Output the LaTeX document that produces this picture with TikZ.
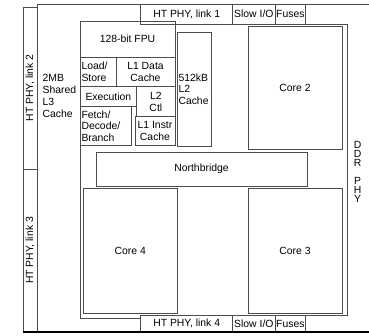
\documentclass[tikz,border=0pt]{standalone}
\usepackage{fontspec}
\setmainfont{Liberation Sans}
\begin{document}
\begin{tikzpicture}[x=1pt,y=-1pt,
  ln/.style={draw=black!70, line width=0.75pt},
  blk/.style={ln, inner sep=0pt, outer sep=0pt, align=center, font=\fontsize{10.4}{11.5}\selectfont},
  lblk/.style={blk, inner xsep=1.5pt, align=left},
  txt/.style={inner sep=0pt, font=\fontsize{10.4}{11.8}\selectfont}]
\useasboundingbox (0,0) rectangle (369,335);
% outer frame
\draw[ln] (37,4.5) -- (369,4.5);
\draw[ln] (37,4.5) -- (37,332);
% left strips
\node[blk, rotate=90, minimum width=162pt, minimum height=14pt] (link2) at (30,88) {HT PHY, link 2};
\node[blk, rotate=90, minimum width=163pt, minimum height=14pt] (link3) at (30,250.5) {HT PHY, link 3};
% top strip
\node[blk, minimum width=92pt, minimum height=19.5pt] (link1) at (186.7,14.25) {HT PHY, link 1};
\node[blk, minimum width=42.3pt, minimum height=19.5pt] (sio1) at (253.85,14.25) {Slow I/O};
\node[blk, minimum width=30.7pt, minimum height=19.5pt] (fuse1) at (290.35,14.25) {Fuses};
% bottom strip
\node[blk, minimum width=92pt, minimum height=17pt] (link4) at (186.7,323.5) {HT PHY, link 4};
\node[blk, minimum width=42.3pt, minimum height=17pt] (sio4) at (253.85,323.5) {Slow I/O};
\node[blk, minimum width=30.7pt, minimum height=17pt] (fuse4) at (290.35,323.5) {Fuses};
% inner die outline
\coordinate (il1) at (80,21.5);
\coordinate (il2) at (80,318);
\coordinate (il3) at (140.7,318);
\draw[ln] (il1) -- (il2) -- (il3);
\coordinate (ir1) at (305.7,24);
\coordinate (ir2) at (347,24);
\coordinate (ir3) at (347,315);
\coordinate (ir4) at (305.7,315);
\draw[ln] (ir1) -- (ir2) -- (ir3) -- (ir4);
% bottom line
\coordinate (b1) at (23,332);
\coordinate (b2) at (369,332);
\draw[black, line width=1.1pt] (b1) -- (b2);
% L3 text
\node[txt, anchor=west, align=left] (l3) at (42.5,96) {2MB\\Shared\\L3\\Cache};
% core 1 blocks
\node[blk, minimum width=95pt, minimum height=35.5pt] (fpu) at (127.5,39.25) {128-bit FPU};
\node[lblk, text width=33pt, minimum width=36pt, minimum height=29.7pt] (ls) at (98,71.85) {Load/\\Store};
\node[blk, minimum width=59pt, minimum height=29.7pt] (l1d) at (145.5,71.85) {L1 Data\\Cache};
\node[blk, minimum width=56.7pt, minimum height=20pt] (exec) at (108.35,96.7) {Execution};
\node[blk, minimum width=38.3pt, minimum height=30pt] (l2ctl) at (155.85,101.7) {L2\\Ctl};
\node[lblk, text width=48.7pt, minimum width=51.7pt, minimum height=38.8pt] (fetch) at (105.85,126.1) {Fetch/\\Decode/\\Branch};
\node[blk, minimum width=40pt, minimum height=28.8pt] (l1i) at (155,131.1) {L1 Instr\\Cache};
\node[lblk, text width=31pt, minimum width=34pt, minimum height=114pt] (l2c) at (194,89) {512kB\\L2\\Cache};
% northbridge and cores
\node[blk, minimum width=211pt, minimum height=34pt] (nb) at (201.5,169) {Northbridge};
\node[blk, minimum width=94pt, minimum height=123pt] (core2) at (295,87.5) {Core 2};
\node[blk, minimum width=94pt, minimum height=124.7pt] (core3) at (295,250.65) {Core 3};
\node[blk, minimum width=94pt, minimum height=124.7pt] (core4) at (130.3,250.65) {Core 4};
% DDR PHY
\node[inner sep=0pt, align=center, font=\fontsize{10.4}{9}\selectfont] (ddr) at (357.5,171.5) {D\\D\\R\\[9pt]P\\H\\Y};
\end{tikzpicture}
\end{document}
